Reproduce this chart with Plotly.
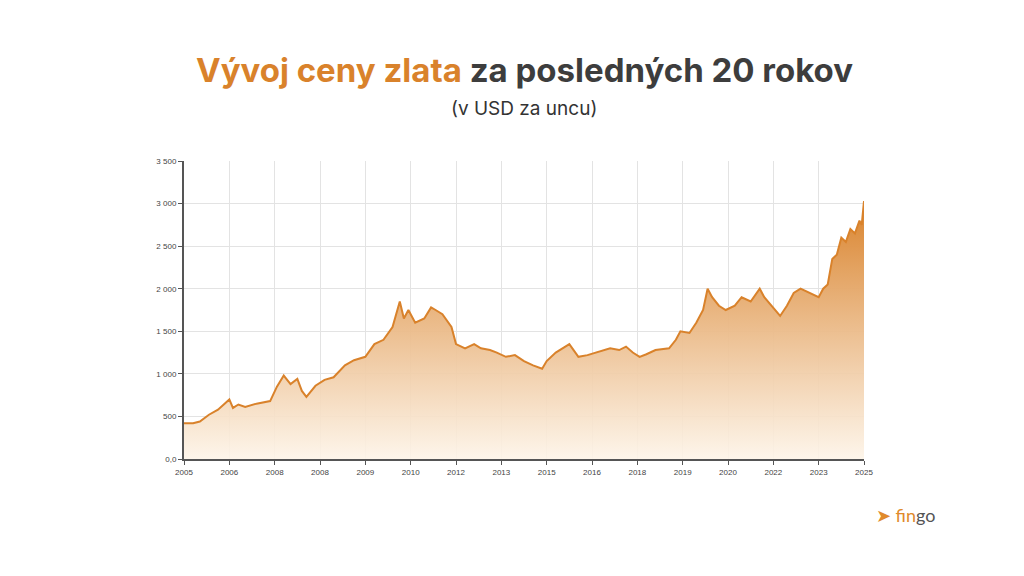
import plotly.graph_objects as go

# tick labels on the x axis (equally spaced, as in the source)
x_labels = ["2005", "2006", "2008", "2008", "2009", "2010", "2012", "2013",
            "2015", "2016", "2018", "2019", "2020", "2022", "2023", "2025"]
y_ticks = [0, 500, 1000, 1500, 2000, 2500, 3000, 3500]
y_ticktext = ["0,0", "500", "1 000", "1 500", "2 000", "2 500", "3 000", "3 500"]

# gold price: position in axis units (0 = 2005 ... 15 = 2025) and USD/oz
pos = [0.0, 0.2, 0.35, 0.55, 0.75, 0.9, 1.0, 1.08, 1.2, 1.35, 1.6, 1.9,
       2.05, 2.2, 2.35, 2.5, 2.6, 2.7, 2.9, 3.1, 3.3, 3.55, 3.75, 4.0,
       4.2, 4.4, 4.6, 4.76, 4.85, 4.95, 5.1, 5.3, 5.45, 5.55, 5.7, 5.9,
       6.0, 6.2, 6.4, 6.55, 6.75, 6.9, 7.1, 7.3, 7.5, 7.7, 7.9, 8.0,
       8.2, 8.5, 8.7, 8.9, 9.1, 9.4, 9.6, 9.75, 9.9, 10.05, 10.2, 10.4,
       10.7, 10.85, 10.95, 11.15, 11.3, 11.45, 11.55, 11.65, 11.8, 11.95, 12.15, 12.3,
       12.5, 12.7, 12.8, 12.95, 13.15, 13.3, 13.45, 13.6, 13.8, 14.0, 14.1, 14.2,
       14.3, 14.4, 14.5, 14.6, 14.7, 14.8, 14.9, 14.95, 15.0]
price = [420, 420, 440, 520, 580, 650, 700, 600, 640, 610, 650, 680,
         850, 980, 880, 940, 800, 730, 860, 930, 960, 1100, 1160, 1200,
         1350, 1400, 1550, 1850, 1650, 1750, 1600, 1650, 1780, 1750, 1700, 1550,
         1350, 1300, 1350, 1300, 1280, 1250, 1200, 1220, 1150, 1100, 1060, 1150,
         1250, 1350, 1200, 1220, 1250, 1300, 1280, 1320, 1250, 1200, 1230, 1280,
         1300, 1400, 1500, 1480, 1600, 1750, 2000, 1900, 1800, 1750, 1800, 1900,
         1850, 2000, 1900, 1800, 1680, 1800, 1950, 2000, 1950, 1900, 2000, 2050,
         2350, 2400, 2600, 2550, 2700, 2650, 2800, 2750, 3030]

orange = "#d9822b"

fig = go.Figure()
fig.add_trace(go.Scatter(
    x=pos, y=price, mode="lines",
    line=dict(color=orange, width=2),
    fill="tozeroy",
    fillgradient=dict(type="vertical",
                      colorscale=[[0, "rgba(253,244,232,0.9)"], [1, "rgba(217,130,43,1)"]]),
    hoverinfo="skip",
))

L, R, T, B = 176, 168, 153, 125
pw, ph = 1024 - L - R, 576 - T - B


def py(pix):
    return (576 - B - pix) / ph


def px(pix):
    return (pix - L) / pw


fig.update_layout(
    width=1024, height=576,
    margin=dict(l=L, r=R, t=T, b=B),
    paper_bgcolor="white", plot_bgcolor="white",
    showlegend=False,
    font=dict(family="Liberation Sans, Arial", size=8, color="#444"),
    xaxis=dict(range=[0, 15], tickvals=list(range(16)), ticktext=x_labels,
               showgrid=True, gridcolor="#e3e3e3", zeroline=False,
               showline=True, linecolor="#555", linewidth=2,
               ticks="outside", ticklen=4, tickcolor="#555"),
    yaxis=dict(range=[0, 3500], tickvals=y_ticks, ticktext=y_ticktext,
               showgrid=True, gridcolor="#e3e3e3", zeroline=False,
               showline=True, linecolor="#555", linewidth=2,
               ticks="outside", ticklen=4, tickcolor="#555"),
    annotations=[
        dict(text="<b><span style='color:#d9822b'>Vývoj ceny zlata</span> za posledných 20 rokov</b>",
             x=0.5, y=py(62), xref="paper", yref="paper", yanchor="middle", showarrow=False,
             font=dict(family="Inter", size=33, color="#3d3d3d")),
        dict(text="(v USD za uncu)", x=0.5, y=py(100), xref="paper", yref="paper",
             yanchor="middle", showarrow=False,
             font=dict(family="Inter", size=19, color="#333")),
        dict(text="<span style='color:#e08a2c'>➤</span> <span style='color:#e08a2c'>fin</span>go",
             x=px(929), y=py(507), xref="paper", yref="paper", yanchor="middle", showarrow=False,
             font=dict(family="Lato", size=18, color="#555")),
    ],
)

fig.write_html("out.html")
